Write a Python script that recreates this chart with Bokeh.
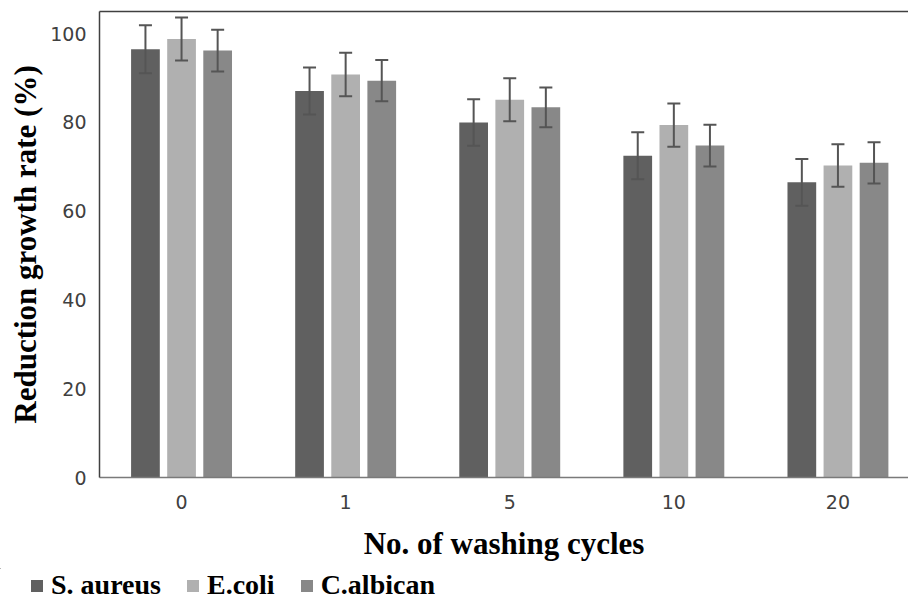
import numpy as np
from bokeh.plotting import figure
from bokeh.models import (ColumnDataSource, Range1d, FixedTicker, LinearAxis, Whisker,
                          TeeHead, Legend, LegendItem)
from bokeh.embed import file_html
from bokeh.resources import INLINE

cycles = ["0", "1", "5", "10", "20"]
s_aureus = [96.5, 87.1, 80.0, 72.5, 66.5]
s_aureus_err = [5.4, 5.3, 5.25, 5.3, 5.25]
e_coli = [98.8, 90.8, 85.1, 79.4, 70.3]
e_coli_err = [4.85, 4.9, 4.85, 4.85, 4.8]
c_albican = [96.2, 89.4, 83.4, 74.8, 70.9]
c_albican_err = [4.7, 4.65, 4.5, 4.7, 4.65]
y_ticks = [0, 20, 40, 60, 80, 100]

series = [
    ("S. aureus", s_aureus, s_aureus_err, "#606060", -0.22),
    ("E.coli", e_coli, e_coli_err, "#b0b0b0", 0.0),
    ("C.albican", c_albican, c_albican_err, "#888888", 0.22),
]

centers = np.arange(len(cycles)) + 0.5

p = figure(width=908, height=568, output_backend="svg", toolbar_location=None,
           x_range=Range1d(0, 4.93), y_range=Range1d(0, 105),
           min_border_top=11, min_border_bottom=91, min_border_left=99, min_border_right=0)
p.outline_line_color = None
p.xgrid.grid_line_color = None
p.ygrid.grid_line_color = None
p.background_fill_color = "white"

# separate strip holding the legend (its frame spans the whole strip);
# its ranges keep the swatch renderers out of view
lg = figure(width=908, height=29, output_backend="svg", toolbar_location=None,
            x_axis_type=None, y_axis_type=None,
            x_range=Range1d(10, 11), y_range=Range1d(-2, -1),
            min_border_top=0, min_border_bottom=0, min_border_left=0, min_border_right=0)
lg.outline_line_color = None
lg.xgrid.grid_line_color = None
lg.ygrid.grid_line_color = None

items = []
for name, vals, errs, col, off in series:
    x = centers + off
    src = ColumnDataSource(dict(x=x, top=vals,
                                upper=np.array(vals) + np.array(errs),
                                lower=np.array(vals) - np.array(errs)))
    p.vbar(x="x", top="top", width=0.175, source=src, fill_color=col, line_color=None)
    w = Whisker(base="x", upper="upper", lower="lower", source=src, level="overlay",
                line_color="#555555", line_width=2,
                upper_head=TeeHead(size=13, line_color="#555555", line_width=2),
                lower_head=TeeHead(size=13, line_color="#555555", line_width=2))
    p.add_layout(w)
    lr = lg.vbar(x="x", top="top", width=0.175, source=src, fill_color=col, line_color=None)
    items.append(LegendItem(label=name, renderers=[lr]))

# x axis
p.xaxis.ticker = FixedTicker(ticks=list(centers))
p.xaxis.major_label_overrides = {float(c): lab for c, lab in zip(centers, cycles)}
p.xaxis.major_tick_line_color = None
p.xaxis.minor_tick_line_color = None
p.xaxis.axis_line_color = "#7a7a7a"
p.xaxis.axis_line_width = 1.5
p.xaxis.major_label_standoff = 11
p.xaxis.major_label_text_font = "DejaVu Sans"
p.xaxis.major_label_text_font_size = "19px"
p.xaxis.major_label_text_color = "#404040"
p.xaxis.axis_label = "No. of washing cycles"
p.xaxis.axis_label_text_font = "Liberation Serif"
p.xaxis.axis_label_text_font_style = "bold"
p.xaxis.axis_label_text_font_size = "31px"
p.xaxis.axis_label_text_color = "black"
p.xaxis.axis_label_standoff = 14

# y axis
p.yaxis.ticker = FixedTicker(ticks=y_ticks)
p.yaxis.major_tick_line_color = None
p.yaxis.minor_tick_line_color = None
p.yaxis.axis_line_color = "#404040"
p.yaxis.axis_line_width = 1.5
p.yaxis.major_label_standoff = 7
p.yaxis.major_label_text_font = "DejaVu Sans"
p.yaxis.major_label_text_font_size = "19px"
p.yaxis.major_label_text_color = "#404040"
p.yaxis.axis_label = "Reduction growth rate (%)"
p.yaxis.axis_label_text_font = "Liberation Serif"
p.yaxis.axis_label_text_font_style = "bold"
p.yaxis.axis_label_text_font_size = "31px"
p.yaxis.axis_label_text_color = "black"
p.yaxis.axis_label_standoff = 4

top_axis = LinearAxis(ticker=FixedTicker(ticks=[]), major_tick_line_color=None,
                      minor_tick_line_color=None, major_label_text_font_size="0px",
                      axis_line_color="#404040", axis_line_width=1.5)
p.add_layout(top_axis, "above")

legend = Legend(items=items, orientation="horizontal", location=(29, -4),
                padding=0, margin=0, spacing=24, label_standoff=7,
                glyph_width=15, glyph_height=15,
                label_text_font="Liberation Serif", label_text_font_style="bold",
                label_text_font_size="28px", label_text_color="black",
                border_line_color=None, background_fill_alpha=0)
lg.add_layout(legend, "center")

open("out.html", "w").write(file_html([p, lg], INLINE))
